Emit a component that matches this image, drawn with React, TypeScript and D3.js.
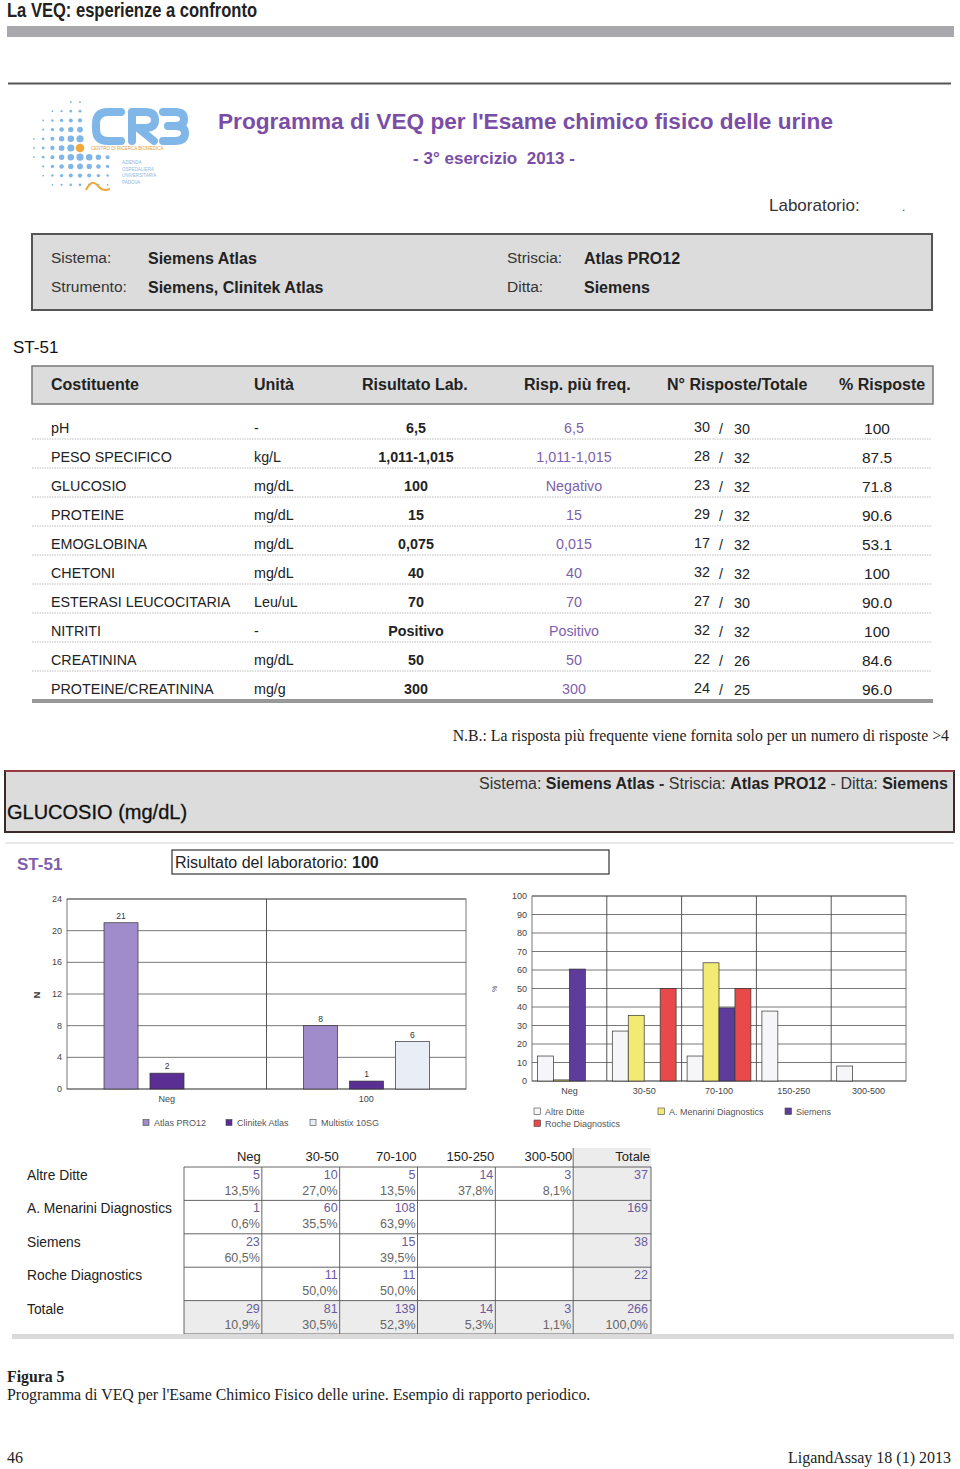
import React from 'react';
import * as d3 from 'd3';

// ST-51 summary table
const constituents = ['pH', 'PESO SPECIFICO', 'GLUCOSIO', 'PROTEINE', 'EMOGLOBINA', 'CHETONI', 'ESTERASI LEUCOCITARIA', 'NITRITI', 'CREATININA', 'PROTEINE/CREATININA'];
const units = ['-', 'kg/L', 'mg/dL', 'mg/dL', 'mg/dL', 'mg/dL', 'Leu/uL', '-', 'mg/dL', 'mg/g'];
const labResults = ['6,5', '1,011-1,015', '100', '15', '0,075', '40', '70', 'Positivo', '50', '300'];
const freqResponses = ['6,5', '1,011-1,015', 'Negativo', '15', '0,015', '40', '70', 'Positivo', '50', '300'];
const nResponses = [30, 28, 23, 29, 17, 32, 27, 32, 22, 24];
const nTotals = [30, 32, 32, 32, 32, 32, 30, 32, 26, 25];
const pctResponses = ['100', '87.5', '71.8', '90.6', '53.1', '100', '90.0', '100', '84.6', '96.0'];
const tableHeaders = ['Costituente', 'Unità', 'Risultato Lab.', 'Risp. più freq.', 'N° Risposte/Totale', '% Risposte'];

// left chart: same strip, by instrument
const stripCategories = ['Neg', '100'];
const stripSeries = ['Atlas PRO12', 'Clinitek Atlas', 'Multistix 10SG'];
const atlasPro12 = [21, 8];
const clinitekAtlas = [2, 1];
const multistix10sg = [0, 6];
const stripColors = ['#a08ccb', '#5a2e92', '#e9edf5'];
const stripTicks = [0, 4, 8, 12, 16, 20, 24];

// right chart + bottom table: by company
const rangeCategories = ['Neg', '30-50', '70-100', '150-250', '300-500'];
const companies = ['Altre Ditte', 'A. Menarini Diagnostics', 'Siemens', 'Roche Diagnostics'];
const companyColors = ['#f6f6f8', '#f2ea72', '#5d3c9c', '#e84a4a'];
const altreDitteN = [5, 10, 5, 14, 3];
const menariniN = [1, 60, 108, null, null];
const siemensN = [23, null, 15, null, null];
const rocheN = [null, 11, 11, null, null];
const altreDittePct = [13.5, 27.0, 13.5, 37.8, 8.1];
const menariniPct = [0.6, 35.5, 63.9, null, null];
const siemensPct = [60.5, null, 39.5, null, null];
const rochePct = [null, 50.0, 50.0, null, null];
const companyTotals = [37, 169, 38, 22];
const rangeTotalsN = [29, 81, 139, 14, 3];
const rangeTotalsPct = [10.9, 30.5, 52.3, 5.3, 1.1];
const grandTotal = 266;
const pctTicks = [0, 10, 20, 30, 40, 50, 60, 70, 80, 90, 100];

const SANS = "'Liberation Sans', Arial, sans-serif";
const NARROW = "'Liberation Sans Narrow', 'Liberation Sans', Arial, sans-serif";
const SERIF = "'Liberation Serif', 'Times New Roman', serif";
const TITLE_PURPLE = '#7a4ea6';
const SOFT_PURPLE = '#7d5fab';
const LOGO_BLUE = '#80b6e8';

const fmtPct = (v: number) => v.toFixed(1).replace('.', ',') + '%';

function Logo() {
  // dotted fan of the CRB logo
  const dots: { x: number; y: number; r: number; c: string }[] = [];
  const cx = 80, cy = 148, s = 9.2;
  for (let i = -5; i <= 4; i++) {
    for (let j = -5; j <= 4; j++) {
      const x = cx + i * s, y = cy + j * s;
      const d = Math.hypot(i, j);
      if (d > 5.2) continue;
      if (x > 86 && y < 152) continue;
      if (x > 112) continue;
      const r = Math.max(0.9, 4.3 - d * 0.72);
      dots.push({ x, y, r, c: i === 0 && j === 0 ? '#f2a93b' : LOGO_BLUE });
    }
  }
  return (
    <g>
      {dots.map((d, k) => <circle key={k} cx={d.x} cy={d.y} r={d.r} fill={d.c} />)}
      <g fill="none" stroke={LOGO_BLUE} strokeWidth={8} strokeLinecap="round" strokeLinejoin="round">
        <path d="M 121 112 L 108 112 Q 96 112 96 124 L 96 129 Q 96 141 108 141 L 121 141" />
        <path d="M 132 141 L 132 112 L 145 112 Q 155 112 155 120 Q 155 128 145 128 L 138 128 L 154 141" />
        <path d="M 163 112 L 175 112 Q 184 112 184 119 Q 184 126 175 126 L 168 126 M 175 126 Q 185 126 185 133 Q 185 141 175 141 L 163 141" />
      </g>
      <text x={91} y={150} fontFamily={SANS} fontSize={4.5} fill="#e2a03a">CENTRO DI RICERCA BIOMEDICA</text>
      {['AZIENDA', 'OSPEDALIERA', 'UNIVERSITARIA', 'PADOVA'].map((t, k) => (
        <text key={t} x={122} y={164 + k * 6.5} fontFamily={SANS} fontSize={4.5} fill="#8fb8dc">{t}</text>
      ))}
      <path d="M 86 190 Q 92 178 98 186 Q 103 192 110 189" fill="none" stroke="#f2a93b" strokeWidth={2} />
    </g>
  );
}

function SummaryTable() {
  const rowY = d3.range(constituents.length).map(i => 433 + i * 29);
  const hx = [51, 254, 362, 524, 667, 839];
  return (
    <g fontFamily={SANS}>
      <text x={13} y={353} fontSize={17} fill="#111">ST-51</text>
      <rect x={32} y={366} width={901} height={38} fill="#dcdcdc" stroke="#777" strokeWidth={1.5} />
      {tableHeaders.map((h, i) => (
        <text key={h} x={hx[i]} y={390} fontSize={16} fontWeight="bold" fill="#222">{h}</text>
      ))}
      {constituents.map((c, i) => (
        <g key={c} fontSize={14.3}>
          <text x={51} y={rowY[i]} fill="#222">{c}</text>
          <text x={254} y={rowY[i]} fill="#222">{units[i]}</text>
          <text x={416} y={rowY[i]} textAnchor="middle" fontWeight="bold" fill="#222">{labResults[i]}</text>
          <text x={574} y={rowY[i]} textAnchor="middle" fill={SOFT_PURPLE}>{freqResponses[i]}</text>
          <text x={710} y={rowY[i] - 1} textAnchor="end" fill="#222">{nResponses[i]}</text>
          <text x={721} y={rowY[i] + 1} textAnchor="middle" fill="#222">/</text>
          <text x={734} y={rowY[i] + 1} fill="#222">{nTotals[i]}</text>
          <text x={877} y={rowY[i] + 1} textAnchor="middle" fontSize={15.5} fill="#222">{pctResponses[i]}</text>
          {i < constituents.length - 1 && (
            <line x1={32} x2={932} y1={rowY[i] + 6} y2={rowY[i] + 6} stroke="#d4d4d4" strokeWidth={1.5} strokeDasharray="1.5,1" />
          )}
        </g>
      ))}
      <line x1={32} x2={933} y1={700} y2={700} stroke="#333" strokeWidth={1.2} />
      <line x1={32} x2={933} y1={702} y2={702} stroke="#333" strokeWidth={1.2} />
    </g>
  );
}

function InstrumentChart() {
  const left = 67, right = 466, top = 899, bottom = 1089;
  const x = d3.scaleBand().domain(stripCategories).range([left, right]);
  const xi = d3.scaleBand().domain(stripSeries).range([37, 163]).paddingInner(0.26);
  const y = d3.scaleLinear().domain([0, 24]).range([bottom, top]);
  const values = [atlasPro12, clinitekAtlas, multistix10sg];
  return (
    <g fontFamily={SANS}>
      {stripTicks.map(t => (
        <g key={t}>
          <line x1={left} x2={right} y1={y(t)} y2={y(t)} stroke="#555" strokeWidth={0.8} />
          <text x={62} y={y(t) + 3} textAnchor="end" fontSize={9} fill="#444">{t}</text>
        </g>
      ))}
      <rect x={left} y={top} width={right - left} height={bottom - top} fill="none" stroke="#555" strokeWidth={0.8} />
      <line x1={x('100')!} x2={x('100')!} y1={top} y2={bottom} stroke="#444" strokeWidth={0.9} />
      {values.map((vals, s) => vals.map((v, c) => v > 0 && (
        <g key={`${s}-${c}`}>
          <rect x={x(stripCategories[c])! + xi(stripSeries[s])!} y={y(v)} width={xi.bandwidth()} height={y(0) - y(v)}
            fill={stripColors[s]} stroke="#333" strokeWidth={0.7} />
          <text x={x(stripCategories[c])! + xi(stripSeries[s])! + xi.bandwidth() / 2} y={y(v) - 4} textAnchor="middle" fontSize={8.5} fill="#333">{v}</text>
        </g>
      )))}
      {stripCategories.map(c => (
        <text key={c} x={x(c)! + x.bandwidth() / 2} y={1102} textAnchor="middle" fontSize={9} fill="#444">{c}</text>
      ))}
      <text transform="translate(40,995) rotate(-90)" textAnchor="middle" fontSize={9} fontWeight="bold" fill="#333">N</text>
      {stripSeries.map((s, i) => {
        const lx = [143, 226, 310][i];
        return (
          <g key={s}>
            <rect x={lx} y={1119.5} width={6} height={6} fill={stripColors[i]} stroke="#444" strokeWidth={0.6} />
            <text x={lx + 11} y={1126} fontSize={9} fill="#555">{s}</text>
          </g>
        );
      })}
    </g>
  );
}

function CompanyChart() {
  const left = 532, right = 906, top = 896, bottom = 1081;
  const x = d3.scaleBand().domain(rangeCategories).range([left, right]);
  const xi = d3.scaleBand().domain(companies).range([5.5, x.bandwidth() - 5.5]);
  const y = d3.scaleLinear().domain([0, 100]).range([bottom, top]);
  const values = [altreDittePct, menariniPct, siemensPct, rochePct];
  const legend = [
    { lx: 534, ly: 1108 }, { lx: 658, ly: 1108 }, { lx: 785, ly: 1108 }, { lx: 534, ly: 1120 },
  ];
  return (
    <g fontFamily={SANS}>
      {pctTicks.map(t => (
        <g key={t}>
          <line x1={left} x2={right} y1={y(t)} y2={y(t)} stroke="#555" strokeWidth={0.8} />
          <text x={527} y={y(t) + 3} textAnchor="end" fontSize={9} fill="#444">{t}</text>
        </g>
      ))}
      <rect x={left} y={top} width={right - left} height={bottom - top} fill="none" stroke="#555" strokeWidth={0.8} />
      {rangeCategories.slice(1).map(c => (
        <line key={c} x1={x(c)!} x2={x(c)!} y1={top} y2={bottom} stroke="#444" strokeWidth={0.9} />
      ))}
      {values.map((vals, s) => vals.map((v, c) => v != null && v > 0 && (
        <rect key={`${s}-${c}`} x={x(rangeCategories[c])! + xi(companies[s])!} y={y(v)} width={xi.bandwidth()} height={y(0) - y(v)}
          fill={companyColors[s]} stroke="#333" strokeWidth={0.7} />
      )))}
      {rangeCategories.map(c => (
        <text key={c} x={x(c)! + x.bandwidth() / 2} y={1094} textAnchor="middle" fontSize={9} fill="#444">{c}</text>
      ))}
      <text transform="translate(497,989) rotate(-90)" textAnchor="middle" fontSize={7} fill="#555">%</text>
      {companies.map((c, i) => (
        <g key={c}>
          <rect x={legend[i].lx} y={legend[i].ly} width={6.5} height={6.5} fill={companyColors[i]} stroke="#444" strokeWidth={0.6} />
          <text x={legend[i].lx + 11} y={legend[i].ly + 6.5} fontSize={9} fill="#555">{c}</text>
        </g>
      ))}
    </g>
  );
}

function CompanyTable() {
  const cols = [...rangeCategories, 'Totale'];
  const rows = [...companies, 'Totale'];
  const x = d3.scaleBand().domain(cols).range([184, 651]);
  const y = d3.scaleBand().domain(rows).range([1167, 1334]);
  const ns = [altreDitteN, menariniN, siemensN, rocheN];
  const ps = [altreDittePct, menariniPct, siemensPct, rochePct];
  const NUM = '#6b5a9e';
  const PCT = '#666';
  return (
    <g fontFamily={SANS}>
      <rect x={x('Totale')!} y={1148} width={x.bandwidth()} height={1334 - 1148} fill="#ececec" />
      <rect x={184} y={y('Totale')!} width={651 - 184} height={y.bandwidth()} fill="#ececec" />
      {cols.map(c => (
        <text key={c} x={x(c)! + x.bandwidth() - 1} y={1161} textAnchor="end" fontSize={13} fill="#222">{c}</text>
      ))}
      {rows.map(r => (
        <line key={r} x1={184} x2={651} y1={y(r)!} y2={y(r)!} stroke="#555" strokeWidth={0.9} />
      ))}
      <line x1={184} x2={651} y1={1334} y2={1334} stroke="#555" strokeWidth={0.9} />
      {cols.map(c => (
        <line key={c} x1={x(c)!} x2={x(c)!} y1={1167} y2={1334} stroke="#555" strokeWidth={0.9} />
      ))}
      <line x1={x('Totale')!} x2={x('Totale')!} y1={1148} y2={1167} stroke="#555" strokeWidth={0.9} />
      <line x1={651} x2={651} y1={1167} y2={1334} stroke="#555" strokeWidth={0.9} />
      {rows.map(r => (
        <text key={r} x={27} y={y(r)! + 13} fontSize={13.8} fill="#222">{r}</text>
      ))}
      {ns.map((vals, ri) => vals.map((v, ci) => v != null && (
        <g key={`${ri}-${ci}`} fontSize={12.5} textAnchor="end">
          <text x={x(rangeCategories[ci])! + x.bandwidth() - 2} y={y(rows[ri])! + 12} fill={NUM}>{v}</text>
          <text x={x(rangeCategories[ci])! + x.bandwidth() - 2} y={y(rows[ri])! + 28} fill={PCT}>{fmtPct(ps[ri][ci] as number)}</text>
        </g>
      )))}
      {companyTotals.map((v, ri) => (
        <text key={ri} x={648} y={y(rows[ri])! + 12} textAnchor="end" fontSize={12.5} fill={NUM}>{v}</text>
      ))}
      {rangeTotalsN.map((v, ci) => (
        <g key={ci} fontSize={12.5} textAnchor="end">
          <text x={x(rangeCategories[ci])! + x.bandwidth() - 2} y={y('Totale')! + 12} fill={NUM}>{v}</text>
          <text x={x(rangeCategories[ci])! + x.bandwidth() - 2} y={y('Totale')! + 28} fill={PCT}>{fmtPct(rangeTotalsPct[ci])}</text>
        </g>
      ))}
      <text x={648} y={y('Totale')! + 12} textAnchor="end" fontSize={12.5} fill={NUM}>{grandTotal}</text>
      <text x={648} y={y('Totale')! + 28} textAnchor="end" fontSize={12.5} fill={PCT}>{fmtPct(100)}</text>
      <rect x={12} y={1334} width={942} height={5} fill="#dadada" />
    </g>
  );
}

export default function App() {
  return (
    <svg width={960} height={1469} viewBox="0 0 960 1469" style={{ position: 'absolute', left: 0, top: 0, background: '#fff' }}>
      <rect width={960} height={1469} fill="#fff" />
      <text x={7} y={17} fontFamily={NARROW} fontWeight="bold" fontSize={20} fill="#222" textLength={250} lengthAdjust="spacingAndGlyphs">La VEQ: esperienze a confronto</text>
      <rect x={7} y={26} width={947} height={11} fill="#a9a9ad" />
      <line x1={8} x2={951} y1={83.5} y2={83.5} stroke="#555" strokeWidth={2} />

      <Logo />
      <text x={218} y={129} fontFamily={SANS} fontWeight="bold" fontSize={22} fill={TITLE_PURPLE} textLength={615} lengthAdjust="spacingAndGlyphs">Programma di VEQ per l'Esame chimico fisico delle urine</text>
      <text x={494} y={164} fontFamily={SANS} fontWeight="bold" fontSize={17} fill={TITLE_PURPLE} textAnchor="middle" style={{ whiteSpace: 'pre' }}>- 3° esercizio  2013 -</text>
      <text x={769} y={211} fontFamily={SANS} fontSize={17} fill="#333">Laboratorio:</text>
      <text x={902} y={211} fontFamily={SANS} fontSize={12} fill="#555">.</text>

      <g fontFamily={SANS} fontSize={15.5} fill="#222">
        <rect x={32} y={234} width={900} height={76} fill="#dcdcdc" stroke="#555" strokeWidth={2} />
        <text x={51} y={263} fill="#333">Sistema:</text>
        <text x={148} y={264} fontWeight="bold" fontSize={16}>Siemens Atlas</text>
        <text x={51} y={292} fill="#333">Strumento:</text>
        <text x={148} y={293} fontWeight="bold" fontSize={16}>Siemens, Clinitek Atlas</text>
        <text x={507} y={263} fill="#333">Striscia:</text>
        <text x={584} y={264} fontWeight="bold" fontSize={16}>Atlas PRO12</text>
        <text x={507} y={292} fill="#333">Ditta:</text>
        <text x={584} y={293} fontWeight="bold" fontSize={16}>Siemens</text>
      </g>

      <SummaryTable />

      <text x={949} y={741} fontFamily={SERIF} fontSize={15.8} fill="#222" textAnchor="end">N.B.: La risposta più frequente viene fornita solo per un numero di risposte &gt;4</text>

      <rect x={5} y={771} width={949} height={61} fill="#dcdcdc" stroke="#3a2a2a" strokeWidth={2} />
      <line x1={5} x2={954} y1={771} y2={771} stroke="#b8404e" strokeWidth={1.5} />
      <text x={948} y={789} fontFamily={SANS} fontSize={16} fill="#333" textAnchor="end">
        <tspan>Sistema: </tspan><tspan fontWeight="bold" fill="#222">Siemens Atlas</tspan><tspan fontWeight="bold"> - </tspan>
        <tspan>Striscia: </tspan><tspan fontWeight="bold" fill="#222">Atlas PRO12</tspan><tspan> - Ditta: </tspan>
        <tspan fontWeight="bold" fill="#222">Siemens</tspan>
      </text>
      <text x={7} y={819} fontFamily={SANS} fontSize={20} fill="#111" stroke="#111" strokeWidth={0.3}>GLUCOSIO (mg/dL)</text>
      <line x1={5} x2={954} y1={843} y2={843} stroke="#e2e2e2" strokeWidth={1.5} />
      <text x={17} y={870} fontFamily={SANS} fontSize={17} fontWeight="bold" fill={SOFT_PURPLE}>ST-51</text>
      <rect x={172} y={850} width={437} height={24} fill="#fff" stroke="#333" strokeWidth={1.2} />
      <text x={175} y={868} fontFamily={SANS} fontSize={16} fill="#222">
        <tspan>Risultato del laboratorio: </tspan><tspan fontWeight="bold">100</tspan>
      </text>

      <InstrumentChart />
      <CompanyChart />
      <CompanyTable />

      <text x={7} y={1382} fontFamily={SERIF} fontSize={15.8} fontWeight="bold" fill="#222">Figura 5</text>
      <text x={7} y={1400} fontFamily={SERIF} fontSize={15.9} fill="#222">Programma di VEQ per l'Esame Chimico Fisico delle urine. Esempio di rapporto periodico.</text>
      <text x={7} y={1463} fontFamily={SERIF} fontSize={16} fill="#222">46</text>
      <text x={951} y={1463} fontFamily={SERIF} fontSize={16} fill="#222" textAnchor="end">LigandAssay 18 (1) 2013</text>
    </svg>
  );
}
